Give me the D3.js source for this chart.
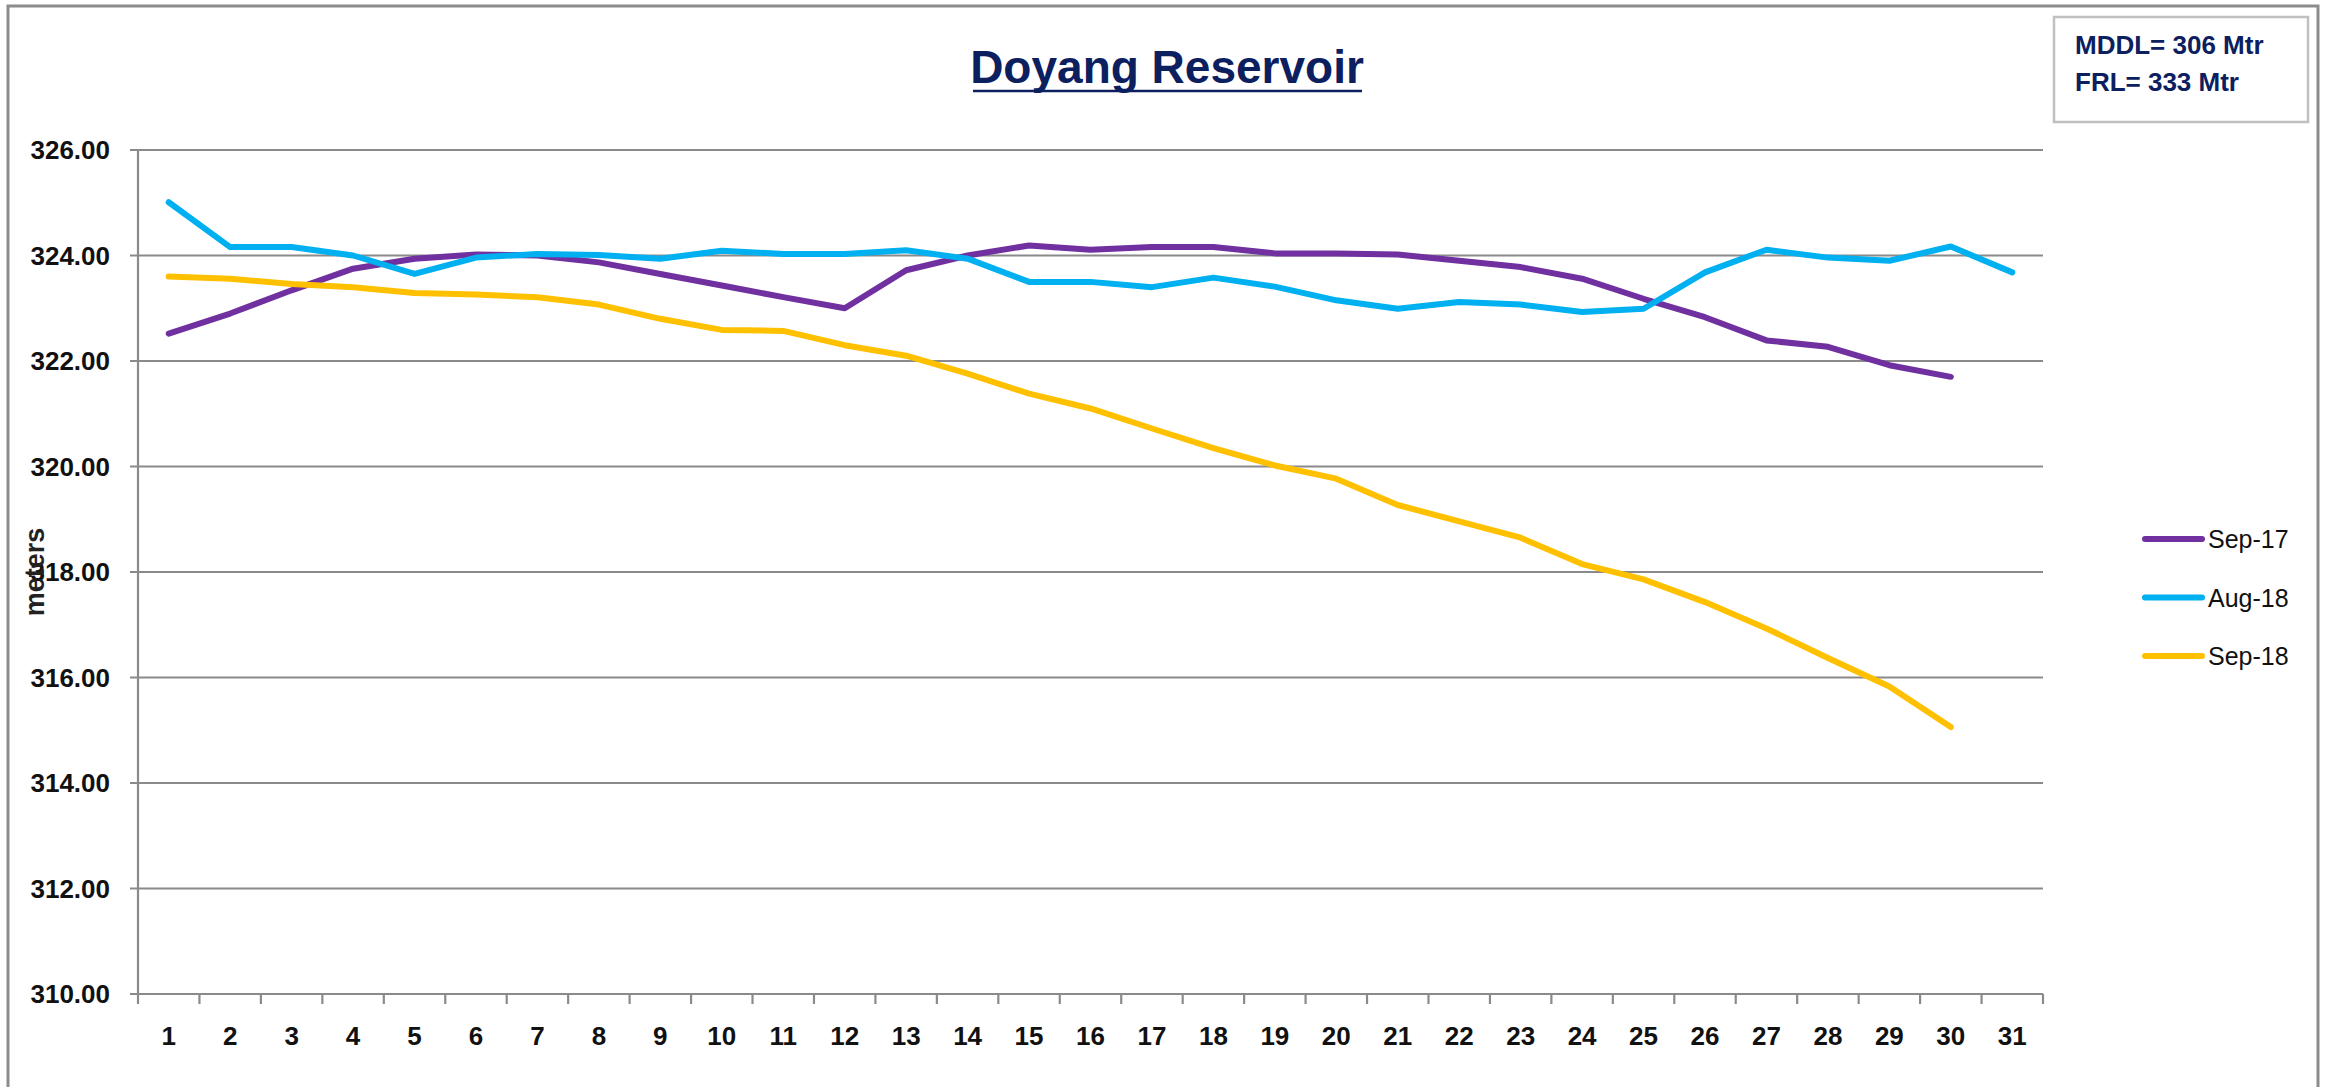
<!DOCTYPE html>
<html>
<head>
<meta charset="utf-8">
<script src="https://cdn.jsdelivr.net/npm/d3@7"></script>
<style>
  html, body { margin: 0; padding: 0; background: #fff; }
  svg { display: block; }
</style>
</head>
<body>
<svg id="chart" width="2334" height="1087"></svg>
<script>
const days = ["1","2","3","4","5","6","7","8","9","10","11","12","13","14","15","16","17","18","19","20","21","22","23","24","25","26","27","28","29","30","31"];
const seriesNames = ["Sep-17", "Aug-18", "Sep-18"];
const seriesColors = ["#7030A0", "#00B0F0", "#FFC000"];
const sep17 = [322.52,322.90,323.34,323.75,323.94,324.02,324.00,323.87,323.65,323.43,323.21,323.00,323.72,324.00,324.19,324.11,324.16,324.16,324.04,324.04,324.02,323.90,323.78,323.56,323.18,322.83,322.39,322.27,321.92,321.70];
const aug18 = [325.01,324.16,324.16,324.00,323.65,323.96,324.03,324.01,323.94,324.09,324.03,324.03,324.10,323.94,323.50,323.50,323.40,323.58,323.41,323.15,322.99,323.12,323.07,322.93,322.99,323.68,324.11,323.96,323.90,324.17,323.68];
const sep18 = [323.60,323.56,323.46,323.40,323.29,323.26,323.21,323.07,322.80,322.59,322.57,322.30,322.10,321.76,321.38,321.10,320.72,320.35,320.02,319.77,319.27,318.96,318.65,318.15,317.86,317.43,316.93,316.37,315.83,315.06];
const yTicks = [310,312,314,316,318,320,322,324,326];
const titleText = "Doyang Reservoir";
const infoLines = ["MDDL= 306 Mtr", "FRL= 333 Mtr"];
const yAxisTitle = "meters";

const svg = d3.select("#chart");
const font = "'Liberation Sans', Arial, sans-serif";
const navy = "#0C2060";
const gridColor = "#8a8a8a";

// outer frame
svg.append("rect").attr("x", 8).attr("y", 6).attr("width", 2310).attr("height", 1100)
  .attr("fill", "none").attr("stroke", "#8c8c8c").attr("stroke-width", 3);

const plot = {left: 138, right: 2043, top: 150, bottom: 994};

const x = d3.scaleBand().domain(days).range([plot.left, plot.right]).padding(0);
const y = d3.scaleLinear().domain([310, 326]).range([plot.bottom, plot.top]);

// gridlines
svg.append("g").selectAll("line").data(yTicks).join("line")
  .attr("x1", plot.left - 8).attr("x2", plot.right)
  .attr("y1", d => y(d)).attr("y2", d => y(d))
  .attr("stroke", gridColor).attr("stroke-width", 2.2);

// y axis line
svg.append("line").attr("x1", plot.left).attr("x2", plot.left)
  .attr("y1", plot.top).attr("y2", plot.bottom)
  .attr("stroke", gridColor).attr("stroke-width", 2.2);

// y tick labels
svg.append("g").selectAll("text").data(yTicks).join("text")
  .attr("x", 110).attr("y", d => y(d)).attr("dy", "0.36em")
  .attr("text-anchor", "end").attr("font-family", font).attr("font-weight", "bold")
  .attr("font-size", 26).attr("fill", "#111")
  .text(d => d3.format(".2f")(d));

// x axis ticks at band boundaries
const boundaries = days.map(d => x(d)).concat([plot.right]);
svg.append("g").selectAll("line").data(boundaries).join("line")
  .attr("x1", d => d).attr("x2", d => d)
  .attr("y1", plot.bottom).attr("y2", plot.bottom + 10)
  .attr("stroke", gridColor).attr("stroke-width", 2.2);

// x tick labels
svg.append("g").selectAll("text").data(days).join("text")
  .attr("x", d => x(d) + x.bandwidth() / 2).attr("y", 1045)
  .attr("text-anchor", "middle").attr("font-family", font).attr("font-weight", "bold")
  .attr("font-size", 26).attr("fill", "#111")
  .text(d => d);

// y axis title
svg.append("text").attr("transform", "translate(44,572) rotate(-90)")
  .attr("text-anchor", "middle").attr("font-family", font).attr("font-weight", "bold")
  .attr("font-size", 27).attr("fill", "#222").text(yAxisTitle);

// series
const allSeries = [sep17, aug18, sep18];
const line = d3.line().x((d, i) => x(days[i]) + x.bandwidth() / 2).y(d => y(d));
allSeries.forEach((s, k) => {
  svg.append("path").datum(s).attr("d", line)
    .attr("fill", "none").attr("stroke", seriesColors[k]).attr("stroke-width", 6)
    .attr("stroke-linejoin", "round").attr("stroke-linecap", "round");
});

// title
svg.append("text").attr("x", 1167).attr("y", 83)
  .attr("text-anchor", "middle").attr("font-family", font).attr("font-weight", "bold")
  .attr("font-size", 46).attr("fill", navy).text(titleText);
svg.append("line").attr("x1", 973).attr("x2", 1362).attr("y1", 91).attr("y2", 91)
  .attr("stroke", navy).attr("stroke-width", 2.5);

// info box
svg.append("rect").attr("x", 2054).attr("y", 17).attr("width", 254).attr("height", 105)
  .attr("fill", "#fff").attr("stroke", "#c0c0c0").attr("stroke-width", 2.5);
svg.append("g").selectAll("text").data(infoLines).join("text")
  .attr("x", 2075).attr("y", (d, i) => 54 + i * 37)
  .attr("font-family", font).attr("font-weight", "bold").attr("font-size", 26)
  .attr("fill", navy).text(d => d);

// legend
const legend = svg.append("g");
seriesNames.forEach((name, k) => {
  const ly = 539 + k * 58.5;
  legend.append("line").attr("x1", 2145).attr("x2", 2202).attr("y1", ly).attr("y2", ly)
    .attr("stroke", seriesColors[k]).attr("stroke-width", 6).attr("stroke-linecap", "round");
  legend.append("text").attr("x", 2208).attr("y", ly).attr("dy", "0.36em")
    .attr("font-family", font).attr("font-size", 25).attr("fill", "#111").text(name);
});
</script>
</body>
</html>
